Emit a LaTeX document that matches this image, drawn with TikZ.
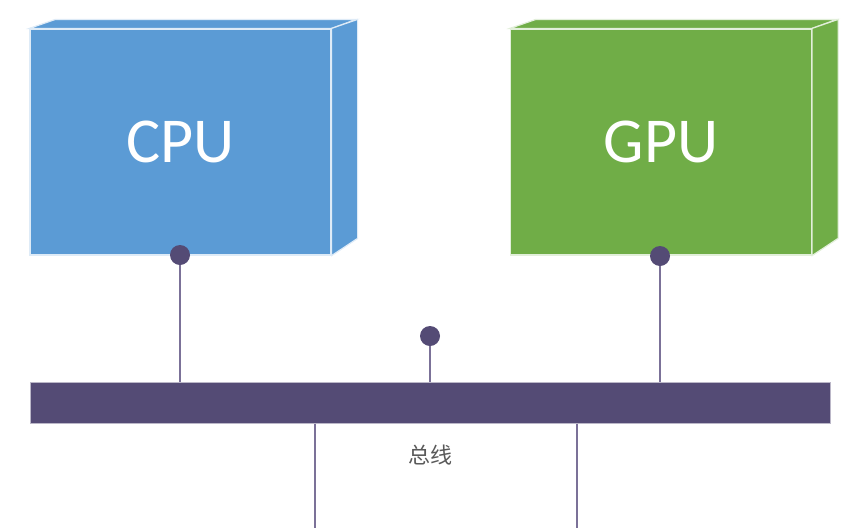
\documentclass[tikz,border=0pt]{standalone}
\usepackage{fontspec}
\setmainfont{Carlito}
\newfontfamily\cjk{Noto Sans CJK SC}
\definecolor{cpublue}{HTML}{5B9BD5}
\definecolor{gpugreen}{HTML}{70AD47}
\definecolor{busdark}{HTML}{544B75}
\definecolor{buswire}{HTML}{7B7198}
\begin{document}
\begin{tikzpicture}[x=1pt,y=-1pt,
      box/.style={minimum width=301pt,minimum height=226pt,inner sep=0pt,
          draw=white!80!#1,line width=1.2pt,fill=#1,text=white,
          font=\fontsize{64}{70}\selectfont},
      side/.style={draw=white!80!#1,line width=1.2pt,fill=#1},
      bus/.style={minimum width=800pt,minimum height=41pt,inner sep=0pt,fill=busdark,
          draw=busdark!40!white,line width=1pt},
      pin/.style={circle,fill=busdark,inner sep=0pt,minimum size=20pt},
      wire/.style={draw=buswire,line width=2.2pt}
    ]
    \useasboundingbox (0,0) rectangle (860,528);
    \node[box=cpublue] (cpu) at (180.5,142) {CPU};
    \node[box=gpugreen] (gpu) at (661,142) {GPU};
    \draw[side=cpublue] (cpu.north west) -- ++(26,-9) -- ++(301,0) -- (cpu.north east) -- cycle;
    \draw[side=cpublue] (cpu.north east) -- ++(26,-9) -- ++(0,219) -- (cpu.south east) -- cycle;
    \draw[side=gpugreen] (gpu.north west) -- ++(26,-9) -- ++(301,0) -- (gpu.north east) -- cycle;
    \draw[side=gpugreen] (gpu.north east) -- ++(26,-9) -- ++(0,219) -- (gpu.south east) -- cycle;
    \node[bus] (bus) at (430,402.5) {};
    \node[pin] (cpupin) at (180,255) {};
    \node[pin] (midpin) at (430,336) {};
    \node[pin] (gpupin) at (660,256) {};
    \coordinate (left) at (315,528);
    \coordinate (right) at (577,528);
    \draw[wire] (cpupin) -- (cpupin |- bus.north);
    \draw[wire] (midpin) -- (midpin |- bus.north);
    \draw[wire] (gpupin) -- (gpupin |- bus.north);
    \draw[wire] (left |- bus.south) -- (left);
    \draw[wire] (right |- bus.south) -- (right);
    \node[text=black!65,font=\cjk\fontsize{22}{24}\selectfont] (label) at (430,455) {总线};
\end{tikzpicture}
\end{document}
